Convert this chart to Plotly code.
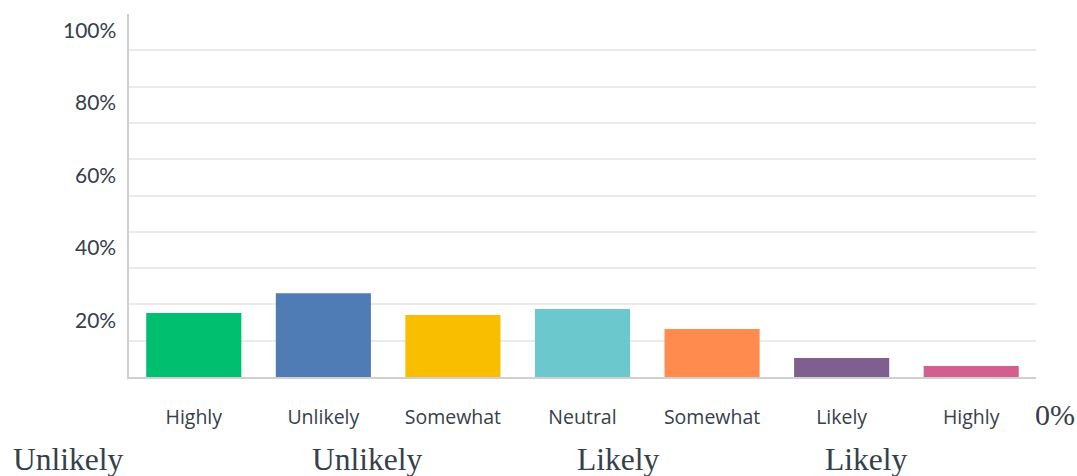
import plotly.graph_objects as go

categories = ["Highly", "Unlikely", "Somewhat", "Neutral", "Somewhat", "Likely", "Highly"]
values = [17.6, 23.1, 17.1, 18.7, 13.2, 5.2, 3.0]
bar_colors = ["#00BF6F", "#507CB6", "#F9BE00", "#6BC8CD", "#FF8B4F", "#7F5F90", "#D25F90"]
y_tick_values = [20, 40, 60, 80, 100]
y_tick_labels = ["20%", "40%", "60%", "80%", "100%"]
grid_values = [10, 20, 30, 40, 50, 60, 70, 80, 90]
second_row_labels = ["Unlikely", "Unlikely", "Likely", "Likely"]
second_row_x = [-0.067, 0.2625, 0.539, 0.8125]
stray_label = "0%"

x_pos = list(range(len(categories)))
text_color = "#36404b"

fig = go.Figure(go.Bar(
    x=x_pos, y=values,
    marker=dict(color=bar_colors, line=dict(width=0)),
    hoverinfo="skip",
))

annotations = []
for v, t in zip(y_tick_values, y_tick_labels):
    annotations.append(dict(
        xref="paper", yref="y", x=0, y=v, xanchor="right", yanchor="middle",
        xshift=-11, yshift=-15, text=t, showarrow=False,
        font=dict(family="Lato", size=21, color=text_color),
    ))
for xp, t in zip(second_row_x, second_row_labels):
    annotations.append(dict(
        xref="paper", yref="paper", x=xp, y=-0.228, xanchor="center", yanchor="middle",
        text=t, showarrow=False,
        font=dict(family="Liberation Serif", size=31.5, color=text_color),
    ))
annotations.append(dict(
    xref="paper", yref="paper", x=1.021, y=-0.1046, xanchor="center", yanchor="middle",
    text=stray_label, showarrow=False,
    font=dict(family="Liberation Serif", size=30, color=text_color),
))

fig.update_layout(
    width=1077, height=476,
    margin=dict(l=129, r=41, t=14, b=99),
    paper_bgcolor="white", plot_bgcolor="white",
    bargap=0.266,
    showlegend=False,
    annotations=annotations,
    xaxis=dict(
        range=[-0.5, 6.5],
        tickvals=x_pos, ticktext=categories,
        showgrid=False, zeroline=False,
        showline=True, linecolor="#d0d0d0", linewidth=2,
        ticks="", ticklabelstandoff=22,
        tickfont=dict(family="Open Sans", size=19.5, color=text_color),
    ),
    yaxis=dict(
        range=[0, 100],
        tickvals=grid_values, showticklabels=False,
        showgrid=True, gridcolor="#ebebeb", gridwidth=2,
        zeroline=False,
        showline=True, linecolor="#cfcfcf", linewidth=2,
        ticks="",
    ),
)

fig.write_html("out.html")
